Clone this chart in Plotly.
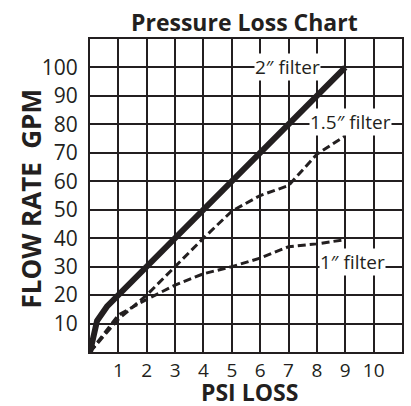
import plotly.graph_objects as go

# Data
x_2in = [0, 0.25, 0.6, 1, 9]
y_2in = [0, 11, 16, 20, 100]

x_15in = [0, 1, 2, 3, 4, 5, 6, 7, 8, 9]
y_15in = [0, 11.5, 20, 30, 40, 49.5, 55, 58.5, 69.5, 76]

x_1in = [0, 1, 2, 3, 4, 5, 6, 7, 8, 9]
y_1in = [0, 13, 18.5, 23.5, 27.5, 30, 33, 37, 38, 39.5]

x_ticks = [1, 2, 3, 4, 5, 6, 7, 8, 9, 10]
y_ticks = [10, 20, 30, 40, 50, 60, 70, 80, 90, 100]

labels = ["2\u2033 filter", "1.5\u2033 filter", "1\u2033 filter"]
label_x = [6.95, 9.2, 9.25]
label_y = [100, 81, 31.7]

ink = "#231f20"
font = "Open Sans, Lato, sans-serif"

fig = go.Figure()
fig.add_trace(go.Scatter(x=x_1in, y=y_1in, mode="lines",
                         line=dict(color=ink, width=3, dash="8px,4px"), showlegend=False))
fig.add_trace(go.Scatter(x=x_15in, y=y_15in, mode="lines",
                         line=dict(color=ink, width=3, dash="8px,4px"), showlegend=False))
fig.add_trace(go.Scatter(x=x_2in, y=y_2in, mode="lines",
                         line=dict(color=ink, width=6), showlegend=False))

for t, xx, yy in zip(labels, label_x, label_y):
    fig.add_annotation(x=xx, y=yy, text=t, showarrow=False, bgcolor="white",
                       font=dict(family=font, size=19, color=ink), borderpad=0)

# Titles as paper annotations for exact placement
fig.add_annotation(xref="paper", yref="paper", x=0.494, y=1.0, yshift=17, xanchor="center", yanchor="middle",
                   text="<b>Pressure Loss Chart</b>", showarrow=False,
                   font=dict(family=font, size=23, color=ink))
fig.add_annotation(xref="paper", yref="paper", x=0.512, y=0, yshift=-40, xanchor="center", yanchor="middle",
                   text="<b>PSI LOSS</b>", showarrow=False, borderpad=0,
                   font=dict(family=font, size=23, color=ink))
fig.add_annotation(xref="paper", yref="paper", x=0, xshift=-60, y=0.5, yshift=-4, xanchor="center", yanchor="middle",
                   text="<b>FLOW RATE  GPM</b>", showarrow=False, textangle=-90,
                   font=dict(family=font, size=26, color=ink))

fig.update_layout(
    width=411, height=406,
    margin=dict(l=90, r=9, t=39, b=54, autoexpand=False),
    paper_bgcolor="white", plot_bgcolor="white",
    xaxis=dict(range=[0, 11], tickvals=x_ticks, ticktext=[str(v) for v in x_ticks],
               showgrid=True, gridcolor=ink, gridwidth=2, zeroline=False,
               showline=True, linecolor=ink, linewidth=2, mirror=True, automargin=False,
               ticks="", ticklen=0, ticklabelstandoff=0, tickfont=dict(family=font, size=19, color=ink)),
    yaxis=dict(range=[0, 110], tickvals=y_ticks, ticktext=[str(v) for v in y_ticks],
               showgrid=True, gridcolor=ink, gridwidth=2, zeroline=False,
               showline=True, linecolor=ink, linewidth=2, mirror=True, automargin=False,
               ticks="", ticklen=0, ticklabelstandoff=6, tickfont=dict(family=font, size=21, color=ink)),
)

fig.write_html("out.html", config={"displayModeBar": False},
               post_script="document.body.style.margin='0';document.body.style.overflow='hidden';")
